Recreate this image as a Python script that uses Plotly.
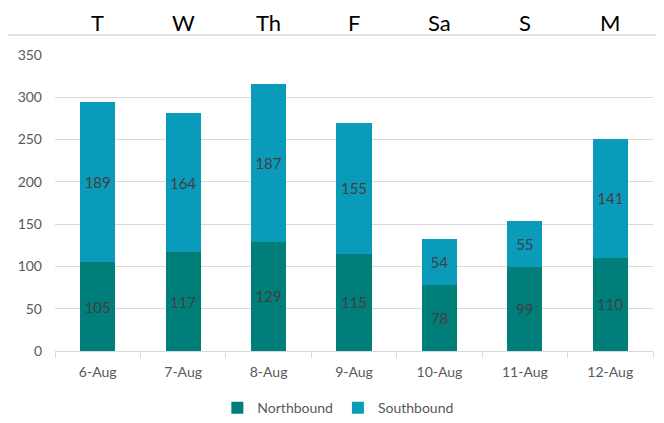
import plotly.graph_objects as go

dates = ["6-Aug", "7-Aug", "8-Aug", "9-Aug", "10-Aug", "11-Aug", "12-Aug"]
days = ["T", "W", "Th", "F", "Sa", "S", "M"]
northbound = [105, 117, 129, 115, 78, 99, 110]
southbound = [189, 164, 187, 155, 54, 55, 141]

N_COLOR = "#007E7A"
S_COLOR = "#0A9BBA"
LABEL_COLOR = "#404040"
TICK_COLOR = "#595959"
GRID = "#D9D9D9"
FONT = "Lato"

fig = go.Figure()
for name, vals, col in [("Northbound", northbound, N_COLOR), ("Southbound", southbound, S_COLOR)]:
    fig.add_trace(go.Bar(
        x=dates, y=vals, name=name,
        marker=dict(color=col, line=dict(width=0)),
        text=vals, texttemplate="%{text}",
        textposition="inside", insidetextanchor="middle",
        textfont=dict(family=FONT, size=15, color=LABEL_COLOR),
        constraintext="none",
    ))

for d, lab in zip(dates, days):
    fig.add_annotation(x=d, xref="x", y=1.111, yref="paper", text=lab,
                       showarrow=False, font=dict(family=FONT, size=22, color="#000000"),
                       xanchor="center", yanchor="middle")

fig.add_shape(type="line", xref="paper", yref="paper", x0=-0.084, x1=1.03,
              y0=1.0676, y1=1.0676, line=dict(color=GRID, width=1.3))

fig.update_layout(
    width=656, height=415,
    margin=dict(l=47, r=11, t=47, b=72, autoexpand=False),
    barmode="stack", bargap=0.59,
    plot_bgcolor="white", paper_bgcolor="white",
    font=dict(family=FONT, size=14, color=TICK_COLOR),
    showlegend=True,
    legend=dict(orientation="h", x=0.473, xanchor="center", y=-0.139, yanchor="top",
                font=dict(family=FONT, size=14, color=TICK_COLOR), traceorder="normal",
                itemwidth=30, tracegroupgap=0),
    uniformtext=dict(minsize=15, mode="show"),
)
fig.update_xaxes(showline=True, linecolor=GRID, linewidth=1.3, ticks="outside",
                 tickson="boundaries", ticklen=6, tickcolor=GRID, automargin=False,
                 ticklabelstandoff=8,
                 tickfont=dict(family=FONT, size=14, color=TICK_COLOR), showgrid=False)
fig.update_yaxes(range=[0, 350], dtick=50, showgrid=True, gridcolor=GRID, gridwidth=1.3,
                 zeroline=False, showline=False, ticks="", ticklabelstandoff=12, automargin=False,
                 tickfont=dict(family=FONT, size=14, color=TICK_COLOR))

fig.write_html("out.html")
